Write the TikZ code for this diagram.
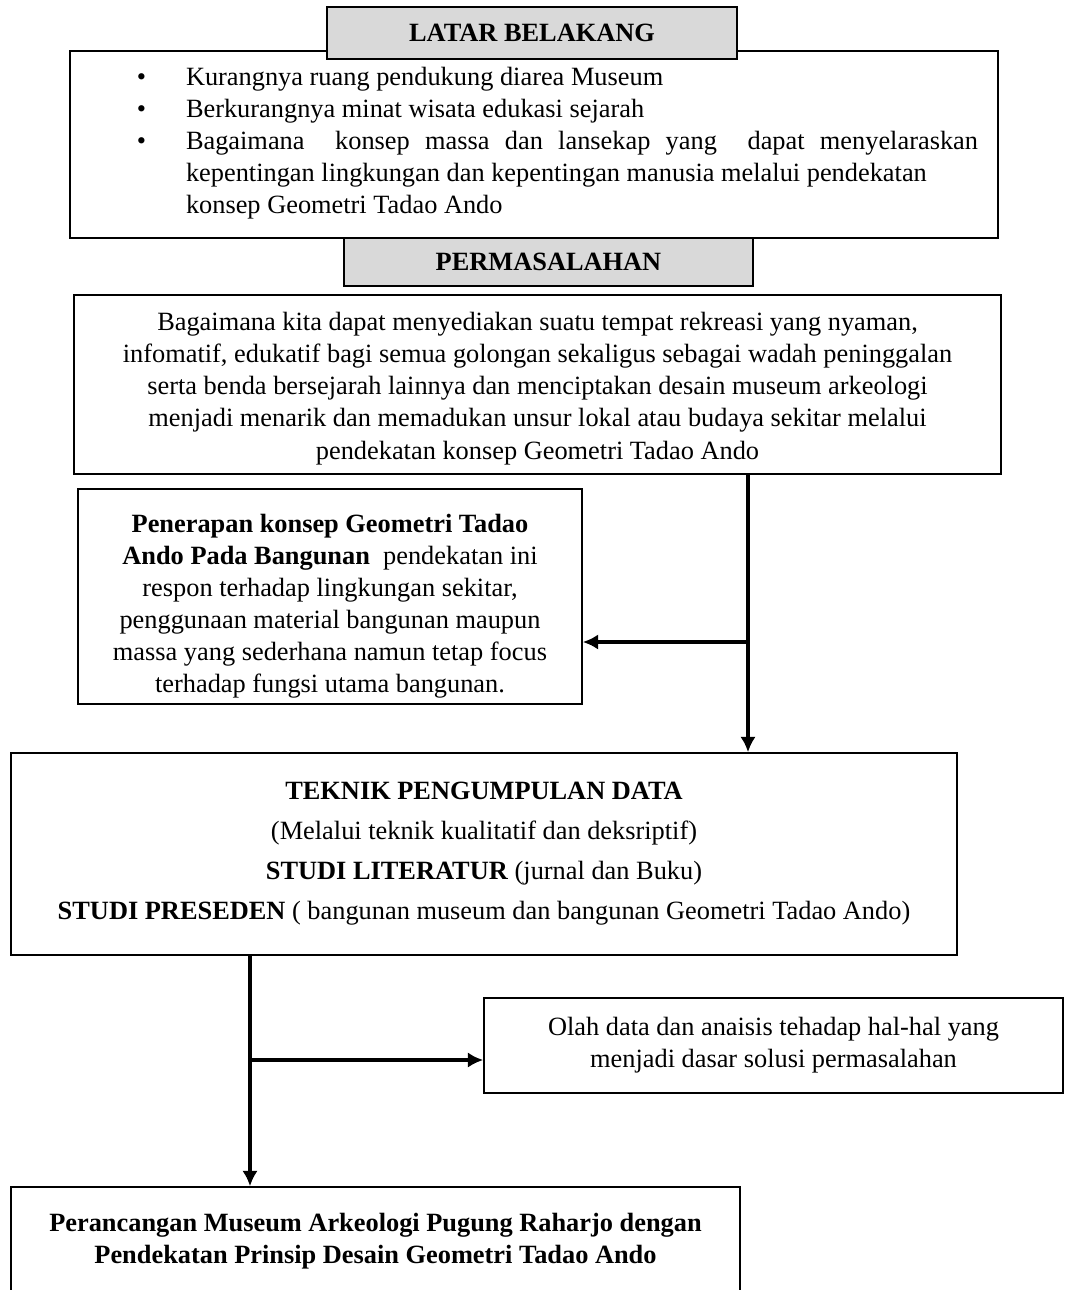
\documentclass[tikz,border=0pt]{standalone}
\usepackage{fontspec}
\setmainfont{Liberation Serif}
\usepackage{tikz}
\usetikzlibrary{arrows.meta,positioning}
\definecolor{headgray}{RGB}{217,217,217}

\begin{document}
\begin{tikzpicture}[
  every node/.style={font=\fontsize{12}{14.6}\selectfont},
  box/.style={draw, line width=0.7pt, inner sep=0pt},
  head/.style={draw, line width=0.7pt, fill=headgray, inner sep=0pt,
               font=\fontsize{12}{14.6}\selectfont\bfseries},
  arrow/.style={-{Latex[length=7pt,width=7pt]}, line width=1.7pt}
]
\useasboundingbox (0,0) rectangle (17.088,-20.64);
\clip (0,0) rectangle (17.088,-20.64);

\node[box, minimum width=14.848cm, minimum height=2.992cm, text width=14.848cm, align=justify] (latar) at (8.544,-2.312) {%
  \begin{list}{\textbullet}{\setlength{\leftmargin}{1.856cm}\setlength{\rightmargin}{0.32cm}%
    \setlength{\labelsep}{0.64cm}\setlength{\labelwidth}{0.3cm}\setlength{\itemsep}{0pt}%
    \setlength{\parsep}{0pt}\setlength{\topsep}{0pt}\setlength{\partopsep}{0pt}}
  \item Kurangnya ruang pendukung diarea Museum
  \item Berkurangnya minat wisata edukasi sejarah
  \item Bagaimana\ \ konsep massa dan lansekap yang\ \ dapat menyelaraskan\linebreak
        kepentingan lingkungan dan kepentingan manusia melalui pendekatan\newline
        konsep Geometri Tadao Ando
  \end{list}\vspace{0.26cm}\hrule height 0pt};
\node[head, minimum width=6.56cm, minimum height=0.832cm] (hlatar) at (8.512,-0.528) {LATAR BELAKANG};

\node[head, minimum width=6.544cm, minimum height=0.768cm] (hmasalah) at (8.776,-4.192) {PERMASALAHAN};
\node[box, minimum width=14.832cm, minimum height=2.864cm, align=center] (masalah) at (8.6,-6.152)
  {\rule{0pt}{12pt}Bagaimana kita dapat menyediakan suatu tempat rekreasi yang nyaman,\\
   infomatif, edukatif bagi semua golongan sekaligus sebagai wadah peninggalan\\
   serta benda bersejarah lainnya dan menciptakan desain museum arkeologi\\
   menjadi menarik dan memadukan unsur lokal atau budaya sekitar melalui\\
   pendekatan konsep Geometri Tadao Ando};

\node[box, minimum width=8.064cm, minimum height=3.44cm, align=center] (konsep) at (5.28,-9.544)
  {\rule{0pt}{17pt}\textbf{Penerapan konsep Geometri Tadao}\\
   \textbf{Ando Pada Bangunan}\ \ pendekatan ini\\
   respon terhadap lingkungan sekitar,\\
   penggunaan material bangunan maupun\\
   massa yang sederhana namun tetap focus\\
   terhadap fungsi utama bangunan.};

\node[box, minimum width=15.136cm, minimum height=3.232cm, align=center] (teknik) at (7.744,-13.664)
  {\textbf{TEKNIK PENGUMPULAN DATA}\\[3.6pt]
   (Melalui teknik kualitatif dan deksriptif)\\[3.6pt]
   \textbf{STUDI LITERATUR} (jurnal dan Buku)\\[3.6pt]
   \textbf{STUDI PRESEDEN} ( bangunan museum dan bangunan Geometri Tadao Ando)};

\node[box, minimum width=9.264cm, minimum height=1.52cm, align=center] (olah) at (12.376,-16.728)
  {Olah data dan anaisis tehadap hal-hal yang\\ menjadi dasar solusi permasalahan};

\node[box, minimum width=11.664cm, minimum height=1.744cm, align=center,
      font=\fontsize{12}{14.6}\selectfont\bfseries] (hasil) at (6.008,-19.864)
  {Perancangan Museum Arkeologi Pugung Raharjo dengan\\ Pendekatan Prinsip Desain Geometri Tadao Ando};

\coordinate (j1) at (11.968,-10.272);
\coordinate (j2) at (4.0,-16.96);
\draw[arrow] (masalah.south -| j1) -- (teknik.north -| j1);
\draw[arrow] (j1) -- (konsep.east |- j1);
\draw[arrow] (teknik.south -| j2) -- (hasil.north -| j2);
\draw[arrow] (j2) -- (olah.west |- j2);
\end{tikzpicture}
\end{document}
